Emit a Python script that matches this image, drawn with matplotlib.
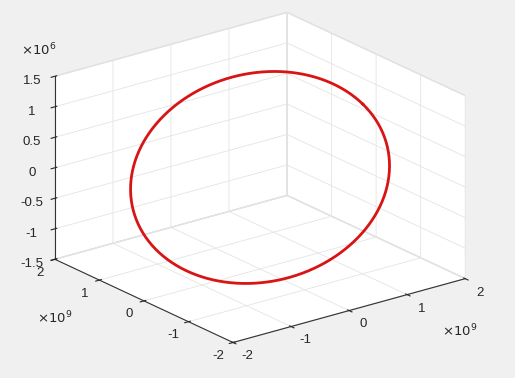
import numpy as np
import matplotlib
matplotlib.use('Agg')
import matplotlib.pyplot as plt
from matplotlib.transforms import offset_copy

plt.rcParams['font.family'] = ['Liberation Sans', 'DejaVu Sans']

# orbit: radius in the xy plane, z tilt components
ORBIT_RADIUS = 1.77e9
Z_TILT_X = 0.74e6   # z at (R, 0)
Z_TILT_Y = 0.65e6   # z at (0, R)

X_TICKS = [-2e9, -1e9, 0, 1e9, 2e9]
Y_TICKS = [-2e9, -1e9, 0, 1e9, 2e9]
Z_TICKS = [-1.5e6, -1e6, -0.5e6, 0, 0.5e6, 1e6, 1.5e6]
XY_LABELS = ['-2', '-1', '0', '1', '2']
Z_LABELS = ['-1.5', '-1', '-0.5', '0', '0.5', '1', '1.5']

t = np.linspace(0, 2 * np.pi, 400)
x = ORBIT_RADIUS * np.cos(t)
y = ORBIT_RADIUS * np.sin(t)
z = Z_TILT_X * np.cos(t) + Z_TILT_Y * np.sin(t)

bg = '#f0f0f0'
txt = '#262626'
fs = 9.5
fig = plt.figure(figsize=(5.15, 3.78), dpi=100, facecolor=bg)
ax = fig.add_axes([-0.005, 0.017, 1.0, 1.0], projection='3d', proj_type='ortho')
ax.set_facecolor(bg)
ax.view_init(elev=21, azim=-127.5)
ax.set_box_aspect((1, 1, 0.67), zoom=1.176)

ax.plot(x, y, z, color='#d81414', lw=2)

ax.set_xlim(-2e9, 2e9)
ax.set_ylim(-2e9, 2e9)
ax.set_zlim(-1.5e6, 1.5e6)
ax.set_xticks(X_TICKS, [''] * len(X_TICKS))
ax.set_yticks(Y_TICKS, [''] * len(Y_TICKS))
ax.set_zticks(Z_TICKS, Z_LABELS)

for axis in (ax.xaxis, ax.yaxis, ax.zaxis):
    axis.set_pane_color((1, 1, 1, 1))
    axis.pane.set_edgecolor('#dcdcdc')
    axis._axinfo['grid']['color'] = '#e4e4e4'
    axis._axinfo['grid']['linewidth'] = 0.6
    axis.line.set_color('#333333')
    axis.line.set_linewidth(0.8)
    axis.get_offset_text().set_visible(False)
ax.tick_params(labelsize=fs, colors=txt, pad=0)

# x/y tick labels sit below their ticks, offset in screen space
x_tr = offset_copy(ax.transData, fig=fig, x=10.5, y=-10, units='points')
y_tr = offset_copy(ax.transData, fig=fig, x=-10.8, y=-9.7, units='points')
for v, lbl in zip(X_TICKS, XY_LABELS):
    ax.text(v, -2e9, -1.5e6, lbl, transform=x_tr, ha='center', va='center',
            fontsize=fs, color=txt)
for v, lbl in zip(Y_TICKS, XY_LABELS):
    ax.text(-2e9, v, -1.5e6, lbl, transform=y_tr, ha='center', va='center',
            fontsize=fs, color=txt)

fig.text(0.04, 0.855, r'$\times10^{6}$', fontsize=fs, color=txt)
fig.text(0.072, 0.145, r'$\times10^{9}$', fontsize=fs, color=txt)
fig.text(0.858, 0.11, r'$\times10^{9}$', fontsize=fs, color=txt)

fig.savefig('out.png', dpi=100, facecolor=bg)
